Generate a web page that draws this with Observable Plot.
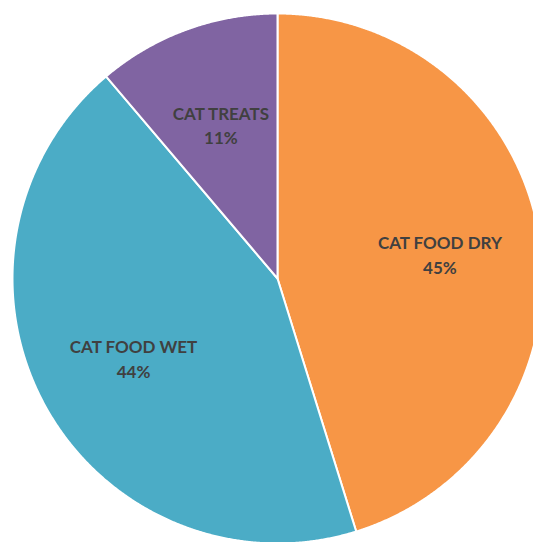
<!DOCTYPE html>
<html>
<head>
<meta charset="utf-8">
<script src="https://cdn.jsdelivr.net/npm/d3@7"></script>
<script src="https://cdn.jsdelivr.net/npm/@observablehq/plot@0.6"></script>
<style>
  html, body { margin: 0; padding: 0; background: #ffffff; }
  #chart { width: 533px; height: 542px; overflow: hidden; }
</style>
</head>
<body>
<div id="chart"></div>
<script>
const categories = ["CAT FOOD DRY", "CAT FOOD WET", "CAT TREATS"];
const values = [45.2, 43.6, 11.2];
const colors = ["#F79646", "#4BACC6", "#8064A2"];

const total = d3.sum(values);
const arcs = d3.pie().sort(null).value(d => d)(values);

// polygon outline of each slice, in unit-circle coordinates (angle clockwise from 12 o'clock)
const slicePoints = [];
arcs.forEach((a, i) => {
  slicePoints.push({name: categories[i], color: colors[i], x: 0, y: 0});
  const n = Math.max(2, Math.ceil((a.endAngle - a.startAngle) / (Math.PI / 720)));
  for (let k = 0; k <= n; k++) {
    const t = a.startAngle + (a.endAngle - a.startAngle) * k / n;
    slicePoints.push({name: categories[i], color: colors[i], x: Math.sin(t), y: -Math.cos(t)});
  }
});

const labels = arcs.map((a, i) => {
  const mid = (a.startAngle + a.endAngle) / 2;
  const rr = 0.62;
  return {
    x: rr * Math.sin(mid),
    y: -rr * Math.cos(mid),
    text: categories[i] + "\n" + Math.round(values[i] / total * 100) + "%"
  };
});

const chart = Plot.plot({
  width: 533,
  height: 542,
  margin: 0,
  style: {background: "#ffffff", overflow: "hidden"},
  x: {domain: [-1, 1], range: [12, 542], axis: null},
  y: {domain: [-1, 1], range: [13, 543], axis: null},
  color: {type: "identity"},
  marks: [
    Plot.line(slicePoints, {
      x: "x", y: "y", z: "name",
      fill: "color", stroke: "#ffffff", strokeWidth: 2,
      strokeLinejoin: "round",
      curve: "linear-closed"
    }),
    Plot.text(labels, {
      x: "x", y: "y", text: "text",
      fill: "#404040",
      fontFamily: "Lato, 'Open Sans', sans-serif",
      fontWeight: "bold",
      fontSize: 17,
      lineHeight: 1.45
    })
  ]
});
document.getElementById("chart").appendChild(chart);
</script>
</body>
</html>
